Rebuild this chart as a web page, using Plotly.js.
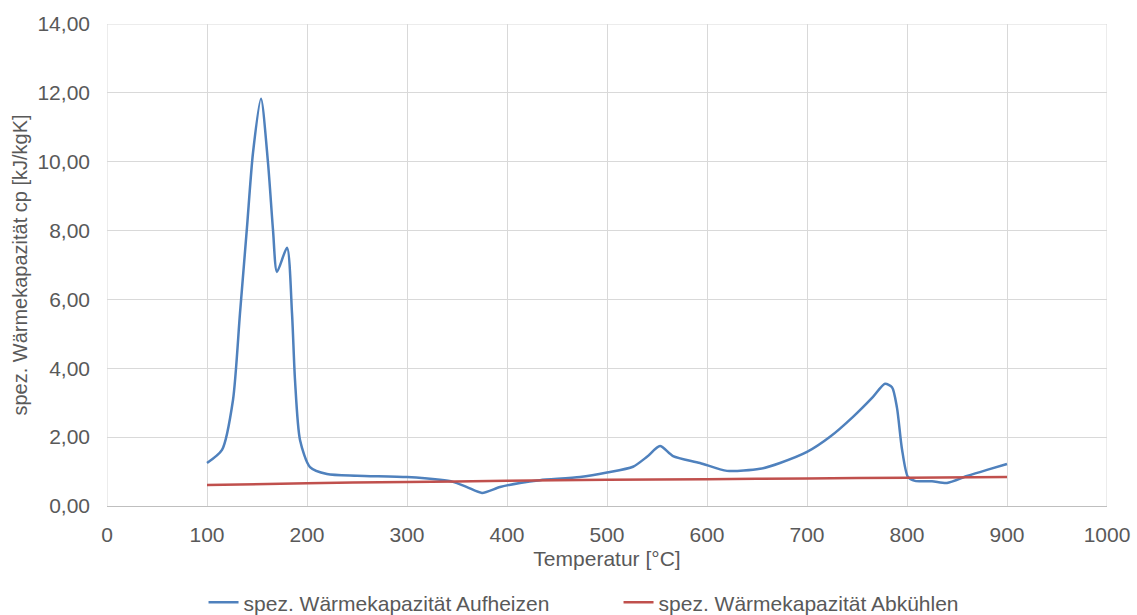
<!DOCTYPE html>
<html>
<head>
<meta charset="utf-8">
<script src="https://cdn.plot.ly/plotly-3.0.1.min.js"></script>
<style>body{margin:0;background:#fff}#chart{width:1137px;height:615px}</style>
</head>
<body>
<div id="chart"></div>
<script>
const heatT = [100,115,126,133,140,146,154,161,166,170,180,185,188,193,203,220,250,300,333,346,360,375,393,413,433,473,500,526,540,553,566,593,620,653,673,700,723,746,766,778,785,790,795,801,808,825,840,860,880,900];
const heatCp = [1.25,1.63,3.08,5.6,8.1,10.26,11.83,9.97,8.02,6.8,7.5,5.6,3.66,1.92,1.13,0.93,0.88,0.84,0.76,0.70,0.55,0.38,0.55,0.67,0.75,0.84,0.97,1.14,1.43,1.74,1.45,1.25,1.02,1.08,1.25,1.57,2.01,2.59,3.17,3.55,3.45,2.85,1.65,0.84,0.73,0.72,0.67,0.87,1.05,1.22];
const coolT = [100,200,300,400,500,600,700,800,900];
const coolCp = [0.61,0.66,0.70,0.73,0.76,0.78,0.80,0.82,0.84];
const names = ['spez. Wärmekapazität Aufheizen','spez. Wärmekapazität Abkühlen'];

const traces = [
  {x: heatT, y: heatCp, name: names[0], mode: 'lines', line: {color: '#4f81bd', width: 2.5, shape: 'spline', smoothing: 0.7}},
  {x: coolT, y: coolCp, name: names[1], mode: 'lines', line: {color: '#c0504d', width: 2.5, shape: 'spline'}}
];
const font = {family: 'Liberation Sans, Arial, sans-serif', color: '#595959', size: 21};
const yfont = {family: 'Liberation Sans, Arial, sans-serif', color: '#595959', size: 20};
const layout = {
  width: 1137, height: 615,
  margin: {l: 107, r: 30, t: 24, b: 109},
  paper_bgcolor: '#fff', plot_bgcolor: '#fff',
  separators: ',.',
  font: font,
  showlegend: true,
  legend: {orientation: 'h', x: 0.544, xanchor: 'center', xref: 'container', y: 0.02, yanchor: 'middle', yref: 'container', font: font, entrywidth: 370, entrywidthmode: 'pixels'},
  xaxis: {range: [0, 1000], dtick: 100, tick0: 0, showgrid: true, gridcolor: '#d9d9d9', zeroline: false, automargin: false,
          showline: true, linecolor: '#bfbfbf', linewidth: 1, ticks: '', tickfont: font, ticklabelstandoff: 10,
          title: {text: 'Temperatur [°C]', font: font, standoff: 6}},
  yaxis: {range: [0, 14], dtick: 2, tick0: 0, tickformat: '.2f', showgrid: true, gridcolor: '#d9d9d9', zeroline: false, automargin: false,
          showline: false, ticks: '', tickfont: font, ticklabelstandoff: 16,
          title: {text: 'spez. Wärmekapazität cp [kJ/kgK]', font: yfont, standoff: 4}},
  shapes: [
    {type: 'line', xref: 'x', yref: 'paper', x0: 0, x1: 0, y0: 0, y1: 1, line: {color: '#d9d9d9', width: 1}, layer: 'below'},
    {type: 'line', xref: 'x', yref: 'paper', x0: 1000, x1: 1000, y0: 0, y1: 1, line: {color: '#d9d9d9', width: 1}, layer: 'below'},
    {type: 'line', xref: 'paper', yref: 'y', x0: 0, x1: 1, y0: 14, y1: 14, line: {color: '#d9d9d9', width: 1}, layer: 'below'}
  ]
};
Plotly.newPlot('chart', traces, layout, {displayModeBar: false, staticPlot: true});
</script>
</body>
</html>
